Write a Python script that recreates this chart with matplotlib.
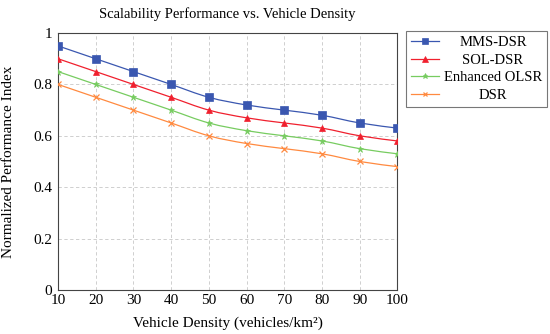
import matplotlib
matplotlib.use("Agg")
import matplotlib.pyplot as plt
import numpy as np
from matplotlib.path import Path
from matplotlib.patches import PathPatch

density = [10, 20, 30, 40, 50, 60, 70, 80, 90, 100]
mms_dsr = [0.95, 0.90, 0.85, 0.80, 0.75, 0.72, 0.70, 0.68, 0.65, 0.63]
sol_dsr = [0.90, 0.85, 0.80, 0.75, 0.70, 0.67, 0.65, 0.63, 0.60, 0.58]
enh_olsr = [0.85, 0.80, 0.75, 0.70, 0.65, 0.62, 0.60, 0.58, 0.55, 0.53]
dsr = [0.80, 0.75, 0.70, 0.65, 0.60, 0.57, 0.55, 0.53, 0.50, 0.48]
labels = ["MMS-DSR", "SOL-DSR", "Enhanced OLSR", "DSR"]
yticks = [0, 0.2, 0.4, 0.6, 0.8, 1]
yticklabels = ["0", "0.2", "0.4", "0.6", "0.8", "1"]

plt.rcParams['font.family'] = ['Liberation Serif', 'DejaVu Serif']

fig = plt.figure(figsize=(5.5, 3.34), dpi=100)
ax = fig.add_axes([0.1055, 0.132, 0.617, 0.769])

colors = ['#3a57b0', '#f0202e', '#77cc60', '#ff8a40']
markers = ['s', '^', '*', 'x']
msizes = [5.5, 5, 5, 4.5]
series = [mms_dsr, sol_dsr, enh_olsr, dsr]


def smooth_path(xs, ys, tension=0.55):
    xs = np.asarray(xs, float); ys = np.asarray(ys, float)
    verts = [(xs[0], ys[0])]
    codes = [Path.MOVETO]
    n = len(xs)
    for i in range(n - 1):
        p0 = np.array([xs[max(i - 1, 0)], ys[max(i - 1, 0)]])
        p1 = np.array([xs[i], ys[i]])
        p2 = np.array([xs[i + 1], ys[i + 1]])
        p3 = np.array([xs[min(i + 2, n - 1)], ys[min(i + 2, n - 1)]])
        c1 = p1 + (p2 - p0) * tension / 3.0
        c2 = p2 - (p3 - p1) * tension / 3.0
        verts += [tuple(c1), tuple(c2), tuple(p2)]
        codes += [Path.CURVE4] * 3
    return Path(verts, codes)


for s, c, m, ms, lab in zip(series, colors, markers, msizes, labels):
    ax.add_patch(PathPatch(smooth_path(density, s), facecolor='none', edgecolor=c, lw=0.9, zorder=3))
    ax.plot(density, s, linestyle='none', marker=m, color=c, markersize=ms, zorder=4,
            markeredgewidth=0.9 if m == 'x' else 0.5)
    ax.plot([], [], color=c, marker=m, markersize=ms, lw=0.9, label=lab,
            markeredgewidth=0.9 if m == 'x' else 0.5)

ax.set_xlim(10, 100)
ax.set_ylim(0, 1)
ax.set_xticks(density)
ax.set_yticks(yticks)
ax.set_yticklabels(yticklabels)
ax.tick_params(length=0, labelsize=11)
ax.tick_params(axis='y', pad=4)
ax.tick_params(axis='x', pad=3)
ax.grid(True, linestyle=(0, (4, 3)), color='#c8c8c8', lw=0.6)
for sp in ax.spines.values():
    sp.set_color('#444444')
    sp.set_linewidth(0.8)

ax.set_title("Scalability Performance vs. Vehicle Density", fontsize=10.5, pad=11)
ax.set_xlabel("Vehicle Density (vehicles/km²)", fontsize=11, labelpad=7)
ax.set_ylabel("Normalized Performance Index", fontsize=11, labelpad=13)

leg = fig.legend(loc='upper left', bbox_to_anchor=(406 / 550, 1 - 31 / 334), fontsize=10.5,
                 frameon=True, fancybox=False, edgecolor='#555555', handlelength=1.9,
                 borderpad=0.35, labelspacing=0.3, handletextpad=0.35, borderaxespad=0,
                 markerscale=0.75)
leg.get_frame().set_linewidth(0.8)

fig.canvas.draw()
renderer = fig.canvas.get_renderer()
texts = leg.get_texts()
widths = [t.get_window_extent(renderer).width for t in texts]
wmax = max(widths)
for t, w in zip(texts, widths):
    t.set_x((wmax - w) / 2.0)

fig.savefig("out.png", dpi=100)
